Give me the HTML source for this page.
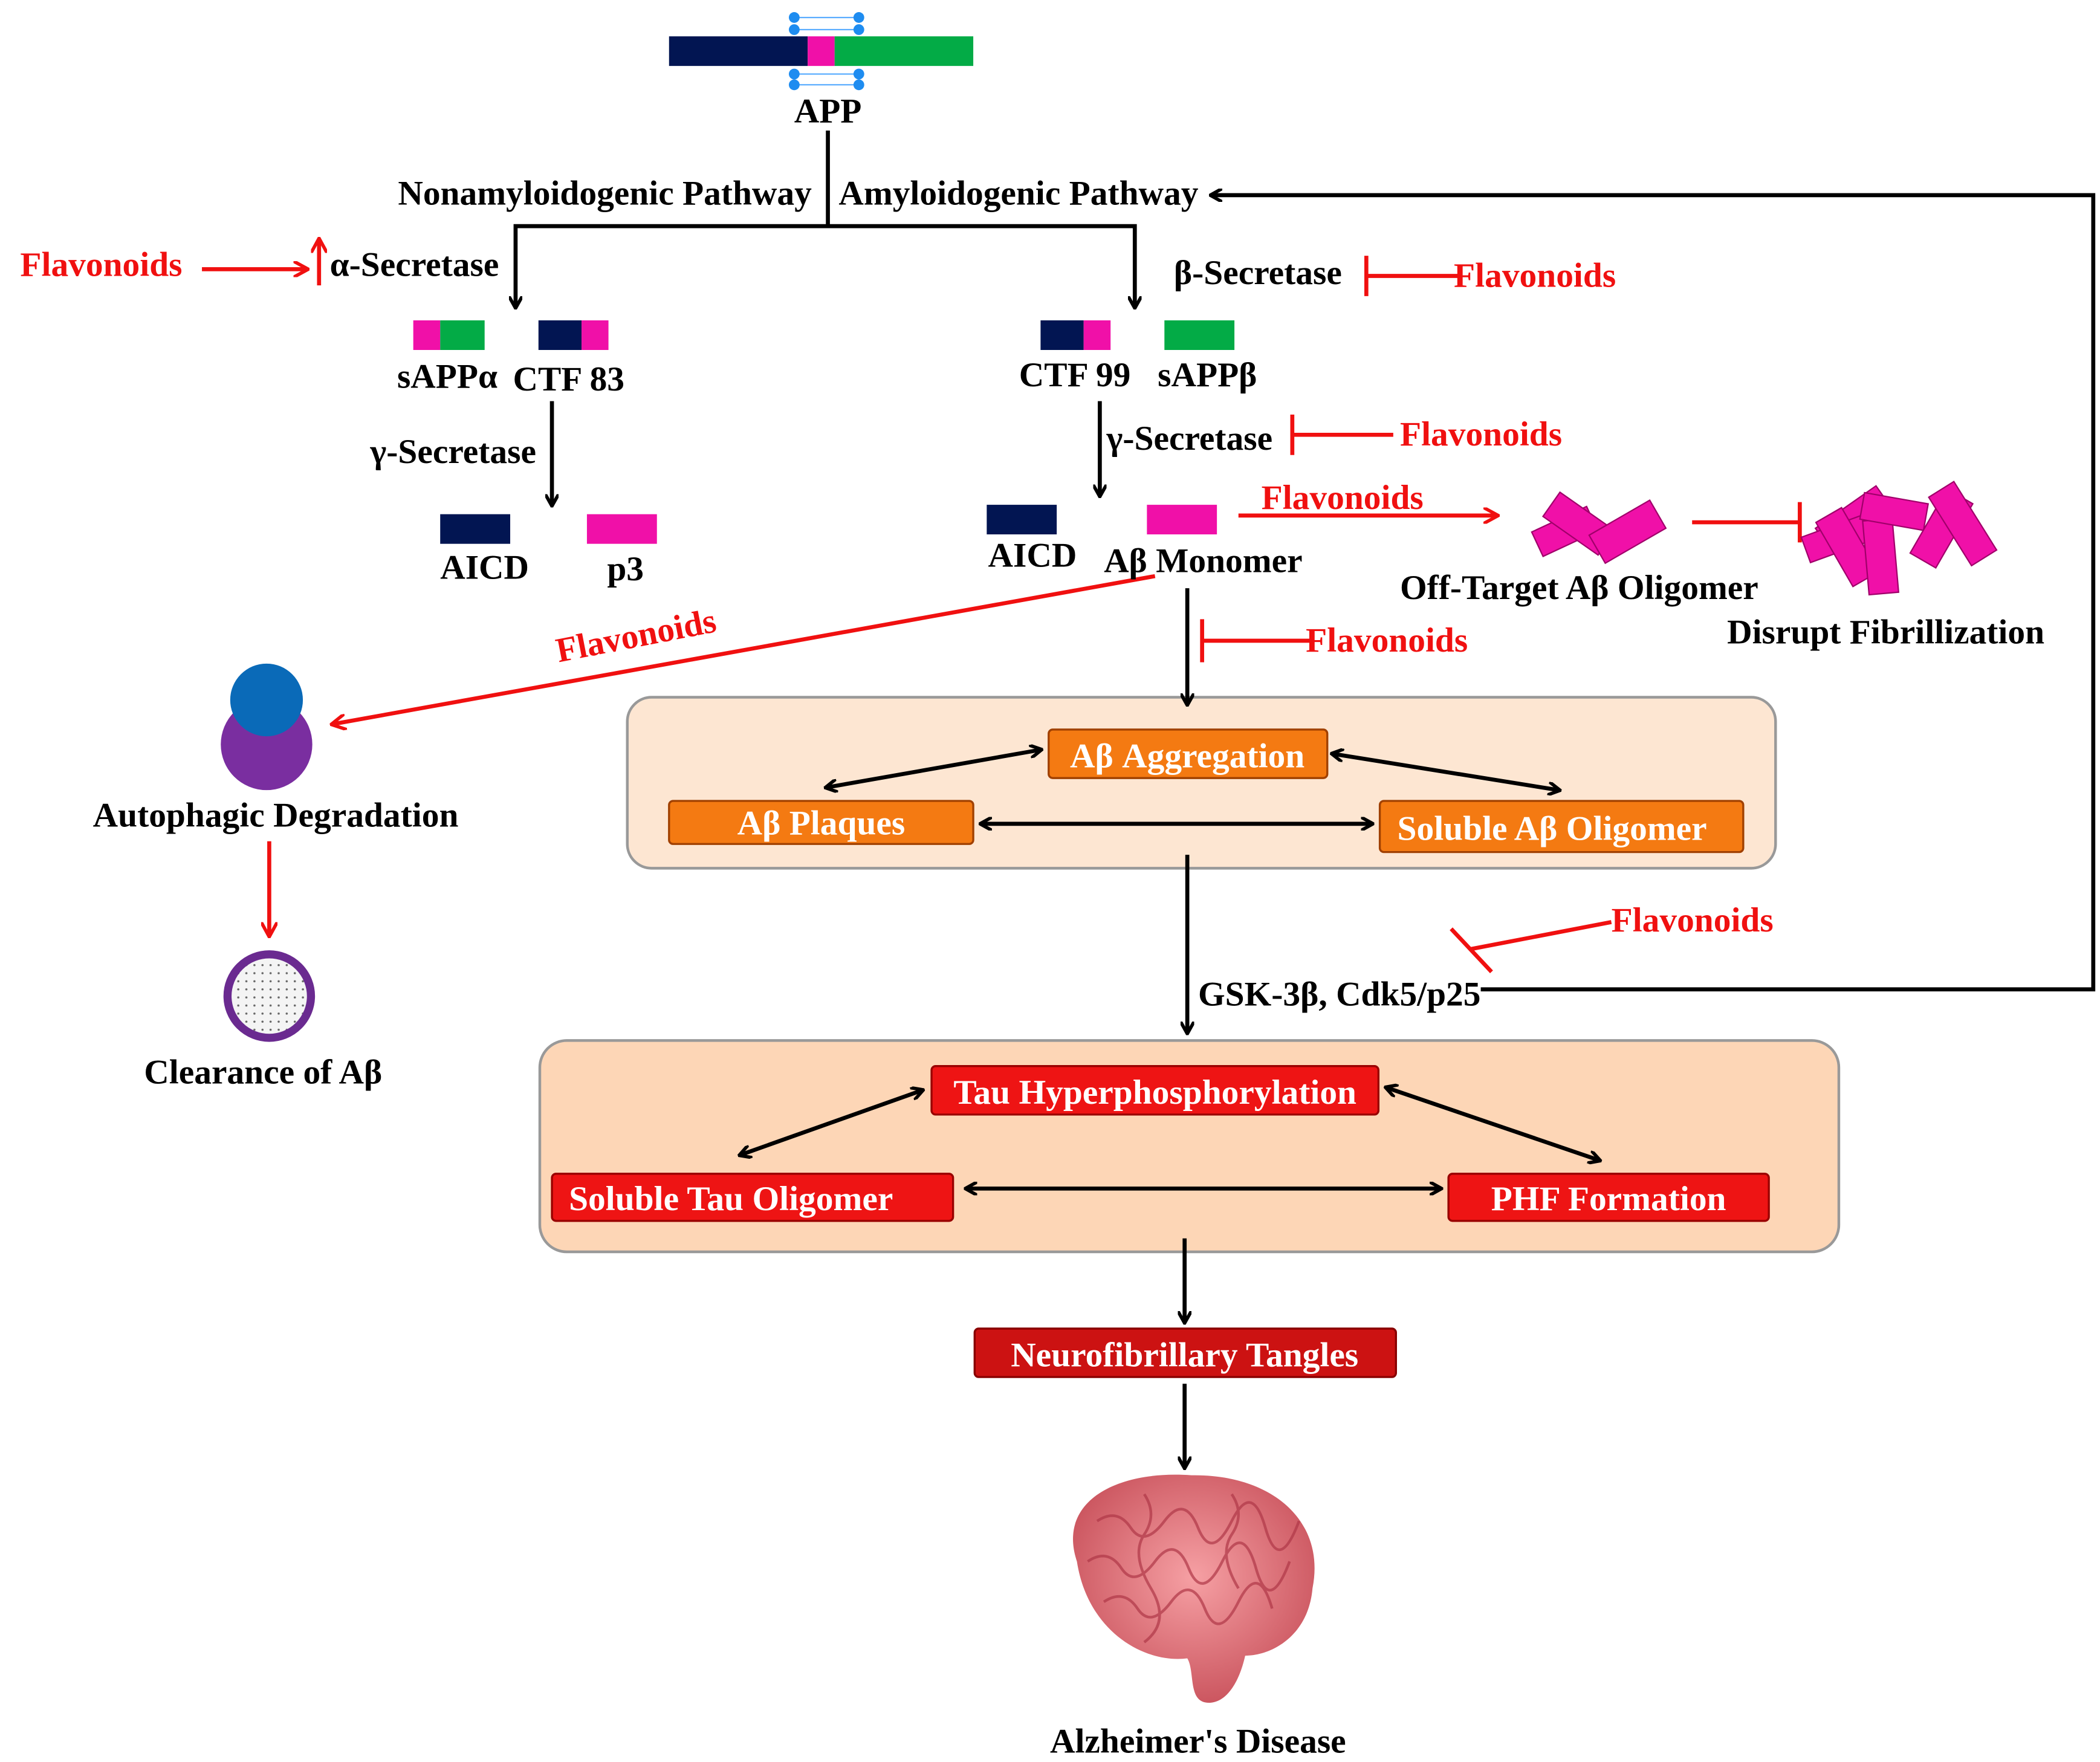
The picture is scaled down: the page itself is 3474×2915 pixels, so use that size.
<!DOCTYPE html>
<html><head><meta charset="utf-8"><style>
html,body{margin:0;padding:0;background:#fff}
svg{display:block}
text{font-family:"Liberation Serif",serif;font-weight:bold;font-size:25.8px;fill:#000}
.r{fill:#f01010}
.w{fill:#fff}
</style></head><body>
<svg width="3474" height="2915" viewBox="0 0 1560 1309" xmlns="http://www.w3.org/2000/svg">
<defs>
<marker id="ab" markerWidth="10" markerHeight="10" refX="8" refY="5" orient="auto-start-reverse" markerUnits="userSpaceOnUse"><path d="M0,0 L9,5 L0,10" fill="none" stroke="#000" stroke-width="2.5"/></marker>
<marker id="ar" markerWidth="12" markerHeight="12" refX="10" refY="6" orient="auto-start-reverse" markerUnits="userSpaceOnUse"><path d="M0,0 L11,6 L0,12" fill="none" stroke="#f01010" stroke-width="2.5"/></marker>
<radialGradient id="brain" cx="50%" cy="45%" r="60%"><stop offset="0" stop-color="#f6a0a4"/><stop offset="1" stop-color="#c8505a"/></radialGradient>
<pattern id="dots" width="6" height="6" patternUnits="userSpaceOnUse"><rect width="6" height="6" fill="#f4f4f4"/><circle cx="3" cy="3" r="0.8" fill="#666"/></pattern>
</defs>
<rect x="466" y="518" width="853" height="127" rx="18" fill="#fde6d2" stroke="#999" stroke-width="2"/>
<rect x="401" y="773" width="965" height="157" rx="20" fill="#fdd6b6" stroke="#999" stroke-width="2"/>
<g stroke="#3399ff" stroke-width="1" opacity="0.8">
<line x1="590" y1="13" x2="638" y2="13"/><line x1="590" y1="22" x2="638" y2="22"/>
<line x1="590" y1="55" x2="638" y2="55"/><line x1="590" y1="63" x2="638" y2="63"/></g>
<g fill="#1e8cf0"><circle cx="590" cy="13" r="4"/><circle cx="590" cy="22" r="4"/><circle cx="638" cy="13" r="4"/><circle cx="638" cy="22" r="4"/>
<circle cx="590" cy="55" r="4"/><circle cx="590" cy="63" r="4"/><circle cx="638" cy="55" r="4"/><circle cx="638" cy="63" r="4"/></g>
<rect x="497" y="27" width="103" height="22" fill="#021552"/><rect x="600" y="27" width="20" height="22" fill="#f010a8"/><rect x="620" y="27" width="103" height="22" fill="#03ab46"/>
<text x="615" y="91" text-anchor="middle">APP</text>
<g stroke="#000" stroke-width="3" fill="none">
<line x1="615" y1="97" x2="615" y2="168"/>
<polyline points="383,228 383,168 843,168 843,228" marker-start="url(#ab)" marker-end="url(#ab)"/>
<polyline points="1100,735 1555,735 1555,145 900,145" marker-end="url(#ab)"/>
<line x1="410" y1="298" x2="410" y2="375" marker-end="url(#ab)"/>
<line x1="817" y1="298" x2="817" y2="368" marker-end="url(#ab)"/>
<line x1="882" y1="437" x2="882" y2="523" marker-end="url(#ab)"/>
<line x1="882" y1="635" x2="882" y2="767" marker-end="url(#ab)"/>
<line x1="880" y1="920" x2="880" y2="982" marker-end="url(#ab)"/>
<line x1="880" y1="1028" x2="880" y2="1090" marker-end="url(#ab)"/>
</g>
<text x="603" y="152" text-anchor="end">Nonamyloidogenic Pathway</text>
<text x="623" y="152">Amyloidogenic Pathway</text>
<text x="15" y="205" class="r">Flavonoids</text>
<g stroke="#f01010" stroke-width="3" fill="none">
<line x1="150" y1="200" x2="228" y2="200" marker-end="url(#ar)"/>
<line x1="237" y1="212" x2="237" y2="178" marker-end="url(#ar)"/>
<line x1="1015" y1="205" x2="1085" y2="205"/><line x1="1015" y1="190" x2="1015" y2="220"/>
<line x1="960" y1="323" x2="1035" y2="323"/><line x1="960" y1="308" x2="960" y2="338"/>
<line x1="920" y1="383" x2="1112" y2="383" marker-end="url(#ar)"/>
<line x1="1257" y1="388" x2="1337" y2="388"/><line x1="1337" y1="373" x2="1337" y2="403"/>
<line x1="858" y1="428" x2="247" y2="538" marker-end="url(#ar)"/>
<line x1="200" y1="625" x2="200" y2="695" marker-end="url(#ar)"/>
<line x1="893" y1="476" x2="975" y2="476"/><line x1="893" y1="460" x2="893" y2="492"/>
<line x1="1197" y1="685" x2="1093" y2="705"/><line x1="1078" y1="690" x2="1108" y2="722"/>
</g>
<text x="245" y="205">α-Secretase</text>
<text x="872" y="211">β-Secretase</text>
<text x="1080" y="213" class="r">Flavonoids</text>
<rect x="307" y="238" width="20" height="22" fill="#f010a8"/><rect x="327" y="238" width="33" height="22" fill="#03ab46"/>
<rect x="400" y="238" width="32" height="22" fill="#021552"/><rect x="432" y="238" width="20" height="22" fill="#f010a8"/>
<rect x="773" y="238" width="32" height="22" fill="#021552"/><rect x="805" y="238" width="20" height="22" fill="#f010a8"/>
<rect x="865" y="238" width="52" height="22" fill="#03ab46"/>
<text x="295" y="288">sAPPα</text><text x="381" y="290">CTF 83</text>
<text x="757" y="287">CTF 99</text><text x="860" y="287">sAPPβ</text>
<text x="275" y="344">γ-Secretase</text>
<text x="822" y="334">γ-Secretase</text>
<text x="1040" y="331" class="r">Flavonoids</text>
<rect x="327" y="382" width="52" height="22" fill="#021552"/><rect x="436" y="382" width="52" height="22" fill="#f010a8"/>
<text x="327" y="430">AICD</text><text x="451" y="431">p3</text>
<rect x="733" y="375" width="52" height="22" fill="#021552"/><rect x="852" y="375" width="52" height="22" fill="#f010a8"/>
<text x="734" y="421">AICD</text><text x="820" y="425">Aβ Monomer</text>
<text x="937" y="378" class="r">Flavonoids</text>
<g fill="#f010a8" stroke="#a0006a" stroke-width="1">
<rect x="1140" y="385" width="45" height="20" transform="rotate(-25 1162 395)"/>
<rect x="1148" y="378" width="50" height="22" transform="rotate(35 1173 389)"/>
<rect x="1183" y="383" width="52" height="24" transform="rotate(-30 1209 395)"/>
<rect x="1350" y="375" width="55" height="22" transform="rotate(-35 1377 386)"/>
<rect x="1340" y="390" width="50" height="20" transform="rotate(-20 1365 400)"/>
<rect x="1345" y="395" width="55" height="22" transform="rotate(60 1372 406)"/>
<rect x="1370" y="402" width="55" height="22" transform="rotate(85 1397 413)"/>
<rect x="1383" y="370" width="48" height="20" transform="rotate(10 1407 380)"/>
<rect x="1415" y="382" width="55" height="22" transform="rotate(-60 1442 393)"/>
<rect x="1428" y="378" width="60" height="22" transform="rotate(58 1458 389)"/>
</g>
<text x="1040" y="445">Off-Target Aβ Oligomer</text>
<text x="1283" y="478">Disrupt Fibrillization</text>
<text x="415" y="492" class="r" transform="rotate(-11 415 492)">Flavonoids</text>
<circle cx="198" cy="553" r="34" fill="#7a2ea0"/><circle cx="198" cy="520" r="27" fill="#0a6ab8"/>
<text x="69" y="614">Autophagic Degradation</text>
<circle cx="200" cy="740" r="31" fill="url(#dots)" stroke="#6a2a90" stroke-width="6"/>
<text x="107" y="805">Clearance of Aβ</text>
<text x="970" y="484" class="r">Flavonoids</text>
<g fill="#f47a12" stroke="#a04000" stroke-width="1.5">
<rect x="779" y="542" width="207" height="36" rx="3"/><rect x="497" y="595" width="226" height="32" rx="3"/><rect x="1025" y="595" width="270" height="38" rx="3"/></g>
<text x="882" y="570" class="w" text-anchor="middle">Aβ Aggregation</text>
<text x="610" y="620" class="w" text-anchor="middle">Aβ Plaques</text>
<text x="1153" y="624" class="w" text-anchor="middle">Soluble Aβ Oligomer</text>
<g stroke="#000" stroke-width="3" fill="none">
<line x1="614" y1="585" x2="773" y2="557" marker-start="url(#ab)" marker-end="url(#ab)"/>
<line x1="990" y1="560" x2="1158" y2="587" marker-start="url(#ab)" marker-end="url(#ab)"/>
<line x1="729" y1="612" x2="1019" y2="612" marker-start="url(#ab)" marker-end="url(#ab)"/>
<line x1="550" y1="858" x2="685" y2="810" marker-start="url(#ab)" marker-end="url(#ab)"/>
<line x1="1030" y1="808" x2="1188" y2="862" marker-start="url(#ab)" marker-end="url(#ab)"/>
<line x1="718" y1="883" x2="1070" y2="883" marker-start="url(#ab)" marker-end="url(#ab)"/>
</g>
<text x="890" y="747">GSK-3β, Cdk5/p25</text>
<text x="1197" y="692" class="r">Flavonoids</text>
<g fill="#ee1414" stroke="#900" stroke-width="1.5">
<rect x="692" y="792" width="332" height="36" rx="3"/><rect x="410" y="872" width="298" height="35" rx="3"/><rect x="1076" y="872" width="238" height="35" rx="3"/></g>
<text x="858" y="820" class="w" text-anchor="middle">Tau Hyperphosphorylation</text>
<text x="543" y="899" class="w" text-anchor="middle">Soluble Tau Oligomer</text>
<text x="1195" y="899" class="w" text-anchor="middle">PHF Formation</text>
<rect x="724" y="987" width="313" height="36" rx="3" fill="#cc1212" stroke="#800" stroke-width="1.5"/>
<text x="880" y="1015" class="w" text-anchor="middle">Neurofibrillary Tangles</text>
<path d="M800,1160 C785,1115 830,1092 885,1096 C945,1095 985,1130 975,1180 C972,1215 945,1230 925,1230 C920,1252 910,1265 898,1265 C882,1265 888,1242 882,1232 C850,1236 808,1212 800,1160Z" fill="url(#brain)"/>
<g fill="none" stroke="#b03848" stroke-width="2" opacity="0.7">
<path d="M815,1130 q15,-10 25,5 t25,-5 t25,5 t25,-5 t25,5 t25,-5"/>
<path d="M808,1160 q15,-10 25,5 t25,-5 t25,5 t25,-5 t25,5 t25,-5"/>
<path d="M820,1190 q15,-10 25,5 t25,-5 t25,5 t25,-5 t25,5"/>
<path d="M850,1110 q10,15 0,30 t5,40 t-5,40"/><path d="M915,1110 q10,15 0,30 t5,40"/>
</g>
<text x="780" y="1302">Alzheimer's Disease</text>
</svg>
</body></html>
